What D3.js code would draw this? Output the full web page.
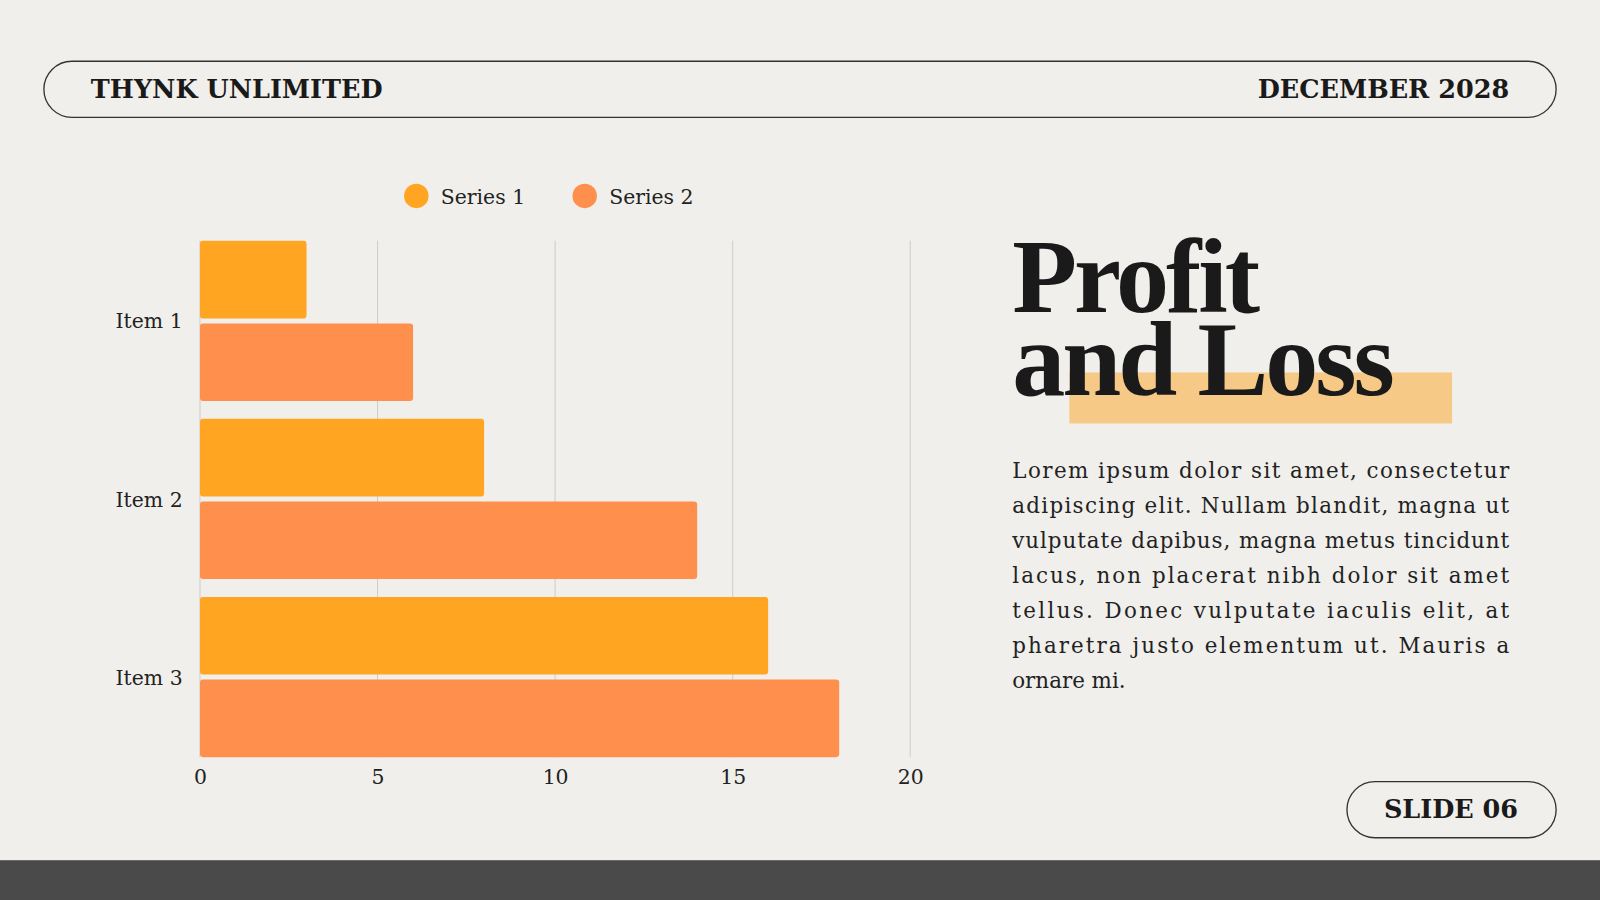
<!DOCTYPE html>
<html><head><meta charset="utf-8">
<script src="https://cdn.jsdelivr.net/npm/d3@7"></script>
<style>body{margin:0;background:#f0efeb;overflow:hidden}</style>
</head><body>
<script>
var categories = ["Item 1", "Item 2", "Item 3"];
var seriesNames = ["Series 1", "Series 2"];
var series1 = [3, 8, 16];
var series2 = [6, 14, 18];
var xTicks = [0, 5, 10, 15, 20];
var colors = ["#ffa521", "#ff8f4c"];
var bodyText = ["Lorem ipsum dolor sit amet, consectetur", "adipiscing elit. Nullam blandit, magna ut",
  "vulputate dapibus, magna metus tincidunt", "lacus, non placerat nibh dolor sit amet",
  "tellus. Donec vulputate iaculis elit, at", "pharetra justo elementum ut. Mauris a", "ornare mi."];

var serif = "'DejaVu Serif',serif";
var display = "'Liberation Serif',serif";
var svg = d3.select("body").append("svg")
  .attr("width", 1600).attr("height", 900)
  .attr("viewBox", "0 0 1568 882");

svg.append("rect").attr("width", 1568).attr("height", 882).attr("fill", "#f0efeb");
svg.append("rect").attr("y", 843).attr("width", 1568).attr("height", 39).attr("fill", "#4a4a4a");

// header pill
svg.append("rect").attr("x", 43).attr("y", 60).attr("width", 1482).attr("height", 55)
  .attr("rx", 27.5).attr("fill", "none").attr("stroke", "#333").attr("stroke-width", 1.3);
svg.append("text").attr("x", 89).attr("y", 96).attr("font-family", serif).attr("font-weight", "bold")
  .attr("font-size", 25).attr("fill", "#1a1a1a").text("THYNK UNLIMITED");
svg.append("text").attr("x", 1479).attr("y", 96).attr("text-anchor", "end").attr("font-family", serif)
  .attr("font-weight", "bold").attr("font-size", 25).attr("fill", "#1a1a1a").text("DECEMBER 2028");

// slide pill
svg.append("rect").attr("x", 1320).attr("y", 766).attr("width", 205).attr("height", 55)
  .attr("rx", 27.5).attr("fill", "none").attr("stroke", "#333").attr("stroke-width", 1.3);
svg.append("text").attr("x", 1422).attr("y", 802).attr("text-anchor", "middle").attr("font-family", serif)
  .attr("font-weight", "bold").attr("font-size", 25).attr("fill", "#1a1a1a").text("SLIDE 06");

// title
svg.append("rect").attr("x", 1048).attr("y", 365).attr("width", 375).attr("height", 50).attr("fill", "#f7c987");
svg.append("text").attr("x", 992).attr("y", 306).attr("font-family", display).attr("font-weight", "bold")
  .attr("font-size", 104).attr("letter-spacing", -3).attr("fill", "#1a1a1a").text("Profit");
svg.append("text").attr("x", 992).attr("y", 387).attr("font-family", display).attr("font-weight", "bold")
  .attr("font-size", 104).attr("letter-spacing", -3).attr("fill", "#1a1a1a").text("and Loss");

var para = svg.append("g");
bodyText.forEach(function(line, i) {
  var t = para.append("text").attr("x", 992).attr("y", 468 + i * 34.3)
    .attr("font-family", serif).attr("font-size", 21).attr("fill", "#222").text(line);
  if (i < bodyText.length - 1) t.attr("textLength", 487).attr("lengthAdjust", "spacing");
});

// chart
var x = d3.scaleLinear().domain([0, 20]).range([196, 892]);
var y = d3.scaleBand().domain(categories).range([236, 742]).paddingInner(0.1).paddingOuter(0);
var ys = d3.scaleBand().domain([0, 1]).range([0, y.bandwidth()]).paddingInner(0.06);

svg.append("g").selectAll("line").data(xTicks).enter().append("line")
  .attr("x1", d => x(d)).attr("x2", d => x(d)).attr("y1", 236).attr("y2", 742)
  .attr("stroke", "#cfcdc8").attr("stroke-width", 1);

var axis = svg.append("g").attr("transform", "translate(0,742)")
  .call(d3.axisBottom(x).tickValues(xTicks).tickSize(0).tickPadding(12));
axis.select(".domain").remove();
axis.selectAll("text").attr("font-family", serif).attr("font-size", 20).attr("fill", "#222");

categories.forEach(function(c, i) {
  [series1[i], series2[i]].forEach(function(v, s) {
    svg.append("rect").attr("x", x(0)).attr("y", y(c) + ys(s))
      .attr("width", x(v) - x(0)).attr("height", ys.bandwidth())
      .attr("rx", 3).attr("fill", colors[s]);
  });
  svg.append("text").attr("x", 179).attr("y", y(c) + y.bandwidth() / 2 + 2)
    .attr("text-anchor", "end").attr("dominant-baseline", "middle")
    .attr("font-family", serif).attr("font-size", 20).attr("fill", "#222").text(c);
});

// legend
var lx = [408, 573];
seriesNames.forEach(function(n, i) {
  svg.append("circle").attr("cx", lx[i]).attr("cy", 192).attr("r", 12).attr("fill", colors[i]);
  svg.append("text").attr("x", lx[i] + 24).attr("y", 200).attr("font-family", serif)
    .attr("font-size", 20).attr("fill", "#222").text(n);
});
</script>
</body></html>
